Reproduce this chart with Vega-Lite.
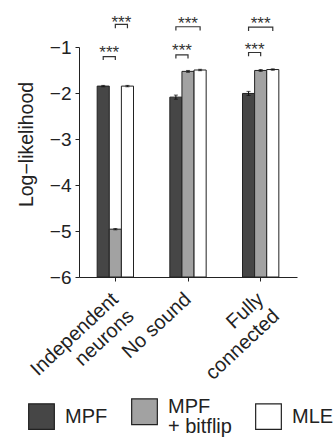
{
  "$schema": "https://vega.github.io/schema/vega-lite/v6.json",
  "autosize": "none",
  "width": 218,
  "height": 230,
  "padding": {"left": 79, "top": 47, "right": 38, "bottom": 164},
  "background": "white",
  "config": {
    "view": {"stroke": null},
    "font": "Liberation Sans",
    "axis": {"labelFont": "Liberation Sans", "titleFont": "Liberation Sans", "labelColor": "#222", "titleColor": "#222", "domainColor": "#222", "tickColor": "#222", "grid": false},
    "legend": {"labelFont": "Liberation Sans"}
  },
  "datasets": {
    "bars": [
      {"model": "Independent neurons", "method": "MPF", "value": -1.85, "lo": -1.865, "hi": -1.835},
      {"model": "Independent neurons", "method": "MPF + bitflip", "value": -4.96, "lo": -4.975, "hi": -4.945},
      {"model": "Independent neurons", "method": "MLE", "value": -1.85, "lo": -1.865, "hi": -1.835},
      {"model": "No sound", "method": "MPF", "value": -2.09, "lo": -2.135, "hi": -2.045},
      {"model": "No sound", "method": "MPF + bitflip", "value": -1.53, "lo": -1.55, "hi": -1.51},
      {"model": "No sound", "method": "MLE", "value": -1.5, "lo": -1.515, "hi": -1.485},
      {"model": "Fully connected", "method": "MPF", "value": -2.01, "lo": -2.055, "hi": -1.965},
      {"model": "Fully connected", "method": "MPF + bitflip", "value": -1.51, "lo": -1.53, "hi": -1.49},
      {"model": "Fully connected", "method": "MLE", "value": -1.49, "lo": -1.505, "hi": -1.475}
    ],
    "brackets": [
      {"model": "Independent neurons", "id": "ind-a", "k": 1, "slot": "p0", "y": -1.28},
      {"model": "Independent neurons", "id": "ind-a", "k": 2, "slot": "p0", "y": -1.21},
      {"model": "Independent neurons", "id": "ind-a", "k": 3, "slot": "p2", "y": -1.21},
      {"model": "Independent neurons", "id": "ind-a", "k": 4, "slot": "p2", "y": -1.28},
      {"model": "Independent neurons", "id": "ind-b", "k": 1, "slot": "p2", "y": -0.59},
      {"model": "Independent neurons", "id": "ind-b", "k": 2, "slot": "p2", "y": -0.51},
      {"model": "Independent neurons", "id": "ind-b", "k": 3, "slot": "p4", "y": -0.51},
      {"model": "Independent neurons", "id": "ind-b", "k": 4, "slot": "p4", "y": -0.59},
      {"model": "No sound", "id": "nos-a", "k": 1, "slot": "p0", "y": -1.25},
      {"model": "No sound", "id": "nos-a", "k": 2, "slot": "p0", "y": -1.17},
      {"model": "No sound", "id": "nos-a", "k": 3, "slot": "p2", "y": -1.17},
      {"model": "No sound", "id": "nos-a", "k": 4, "slot": "p2", "y": -1.25},
      {"model": "No sound", "id": "nos-b", "k": 1, "slot": "p0", "y": -0.64},
      {"model": "No sound", "id": "nos-b", "k": 2, "slot": "p0", "y": -0.56},
      {"model": "No sound", "id": "nos-b", "k": 3, "slot": "p4", "y": -0.56},
      {"model": "No sound", "id": "nos-b", "k": 4, "slot": "p4", "y": -0.64},
      {"model": "Fully connected", "id": "ful-a", "k": 1, "slot": "p0", "y": -1.2},
      {"model": "Fully connected", "id": "ful-a", "k": 2, "slot": "p0", "y": -1.12},
      {"model": "Fully connected", "id": "ful-a", "k": 3, "slot": "p2", "y": -1.12},
      {"model": "Fully connected", "id": "ful-a", "k": 4, "slot": "p2", "y": -1.2},
      {"model": "Fully connected", "id": "ful-b", "k": 1, "slot": "p0", "y": -0.65},
      {"model": "Fully connected", "id": "ful-b", "k": 2, "slot": "p0", "y": -0.57},
      {"model": "Fully connected", "id": "ful-b", "k": 3, "slot": "p4", "y": -0.57},
      {"model": "Fully connected", "id": "ful-b", "k": 4, "slot": "p4", "y": -0.65}
    ],
    "stars": [
      {"model": "Independent neurons", "slot": "p1", "y": -1.03, "label": "***"},
      {"model": "Independent neurons", "slot": "p3", "y": -0.36, "label": "***"},
      {"model": "No sound", "slot": "p1", "y": -0.98, "label": "***"},
      {"model": "No sound", "slot": "p2", "y": -0.39, "label": "***"},
      {"model": "Fully connected", "slot": "p1", "y": -0.95, "label": "***"},
      {"model": "Fully connected", "slot": "p2", "y": -0.4, "label": "***"}
    ]
  },
  "encoding": {
    "x": {
      "field": "model",
      "type": "nominal",
      "sort": ["Independent neurons", "No sound", "Fully connected"],
      "scale": {"paddingInner": 0.5, "paddingOuter": 0.25},
      "axis": {
        "title": null,
        "labelAngle": -43,
        "labelAlign": "right",
        "labelBaseline": "middle",
        "labelFontSize": 20,
        "labelLineHeight": 23,
        "labelPadding": 15,
        "tickSize": 4,
        "labelExpr": "datum.label == 'No sound' ? datum.label : split(datum.label, ' ')"
      }
    }
  },
  "layer": [
    {
      "data": {"name": "bars"},
      "mark": {"type": "bar", "stroke": "#222", "strokeWidth": 1},
      "encoding": {
        "xOffset": {"field": "method", "type": "nominal", "sort": ["MPF", "MPF + bitflip", "MLE"], "scale": {"paddingInner": 0, "paddingOuter": 0}},
        "y": {
          "field": "value",
          "type": "quantitative",
          "scale": {"domain": [-6, -1], "nice": false, "zero": false},
          "axis": {
            "values": [-6, -5, -4, -3, -2, -1],
            "title": "Log\u2212likelihood",
            "titleFontSize": 19.5,
            "titleFontWeight": "normal",
            "titlePadding": 13,
            "titleY": 97,
            "labelFontSize": 19,
            "labelPadding": 4,
            "tickSize": 4
          }
        },
        "y2": {"datum": -6},
        "fill": {
          "field": "method",
          "type": "nominal",
          "sort": ["MPF", "MPF + bitflip", "MLE"],
          "scale": {"domain": ["MPF", "MPF + bitflip", "MLE"], "range": ["#464646", "#a2a2a2", "#ffffff"]},
          "legend": {
            "title": null,
            "orient": "none",
            "direction": "horizontal",
            "columns": 3,
            "legendX": -51,
            "legendY": 351,
            "padding": 0,
            "symbolType": "square",
            "symbolSize": 660,
            "symbolStrokeColor": "#222",
            "symbolStrokeWidth": 1.2,
            "labelFontSize": 20,
            "labelColor": "#222",
            "labelOffset": 10,
            "labelLimit": 0,
            "columnPadding": 21,
            "labelExpr": "datum.label == 'MPF + bitflip' ? ['\u00a0\u00a0MPF', '+ bitflip'] : datum.label",
            "encode": {
              "labels": {
                "update": {
                  "lineHeight": {"value": 20},
                  "dy": {"signal": "datum.label == 'MPF + bitflip' ? -5 : 0"}
                }
              }
            }
          }
        }
      }
    },
    {
      "data": {"name": "bars"},
      "mark": {"type": "rule", "color": "#111", "strokeWidth": 1},
      "encoding": {
        "xOffset": {"field": "method", "type": "nominal", "sort": ["MPF", "MPF + bitflip", "MLE"]},
        "y": {"field": "lo", "type": "quantitative"},
        "y2": {"field": "hi"}
      }
    },
    {
      "data": {"name": "bars"},
      "mark": {"type": "tick", "orient": "horizontal", "color": "#111", "size": 4, "thickness": 1},
      "encoding": {
        "xOffset": {"field": "method", "type": "nominal", "sort": ["MPF", "MPF + bitflip", "MLE"]},
        "y": {"field": "lo", "type": "quantitative"}
      }
    },
    {
      "data": {"name": "bars"},
      "mark": {"type": "tick", "orient": "horizontal", "color": "#111", "size": 4, "thickness": 1},
      "encoding": {
        "xOffset": {"field": "method", "type": "nominal", "sort": ["MPF", "MPF + bitflip", "MLE"]},
        "y": {"field": "hi", "type": "quantitative"}
      }
    },
    {
      "layer": [
        {
          "data": {"name": "brackets"},
          "mark": {"type": "line", "color": "#333", "strokeWidth": 1.2, "clip": false},
          "encoding": {
            "xOffset": {"field": "slot", "type": "nominal", "scale": {"type": "point", "domain": ["p0", "p1", "p2", "p3", "p4"], "padding": 1}},
            "y": {"field": "y", "type": "quantitative"},
            "detail": {"field": "id"},
            "order": {"field": "k"}
          }
        },
        {
          "data": {"name": "stars"},
          "mark": {"type": "text", "color": "#333", "fontSize": 17, "dy": 10, "baseline": "alphabetic", "align": "center"},
          "encoding": {
            "xOffset": {"field": "slot", "type": "nominal", "scale": {"type": "point", "domain": ["p0", "p1", "p2", "p3", "p4"], "padding": 1}},
            "y": {"field": "y", "type": "quantitative"},
            "text": {"field": "label"}
          }
        }
      ]
    }
  ],
  "resolve": {"scale": {"xOffset": "independent"}}
}
